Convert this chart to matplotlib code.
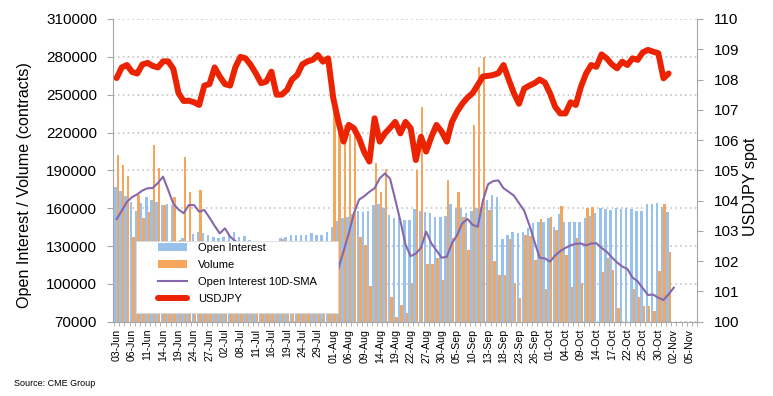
import matplotlib
matplotlib.use("Agg")
import matplotlib.pyplot as plt
import numpy as np
from matplotlib.lines import Line2D
from matplotlib.patches import Patch, Rectangle
from matplotlib.ticker import StrMethodFormatter

plt.rcParams["font.family"] = ["Liberation Sans", "DejaVu Sans"]

# one label every third trading day
TICK_LABELS = [
    "03-Jun", "06-Jun", "11-Jun", "14-Jun", "19-Jun", "24-Jun", "27-Jun",
    "02-Jul", "08-Jul", "11-Jul", "16-Jul", "19-Jul", "24-Jul", "29-Jul",
    "01-Aug", "06-Aug", "09-Aug", "14-Aug", "19-Aug", "22-Aug", "27-Aug",
    "30-Aug", "05-Sep", "10-Sep", "13-Sep", "18-Sep", "23-Sep", "26-Sep",
    "01-Oct", "04-Oct", "09-Oct", "14-Oct", "17-Oct", "22-Oct", "25-Oct",
    "30-Oct", "02-Nov", "05-Nov",
]
N_CATEGORIES = 113

open_interest = [
    176500, 174000, 170000, 165200, 157500, 163900, 169100, 166500, 165000, 162500,
    163100, 162500, 126000, 136600, 134000, 139300, 141000, 140100, 138500, 137500,
    136600, 137400, 138700, 141400, 137400, 138000, 135000, 125000, 124000, 123000,
    125000, 126000, 136600, 137000, 138700, 138500, 139000, 138700, 140000, 139000,
    138700, 141000, 145000, 150000, 152000, 153300, 155000, 157800, 157200, 157800,
    162500, 163100, 160000, 154600, 152000, 153000, 150600, 150600, 159400, 158000,
    157200, 155900, 153300, 152700, 154000, 163500, 160200, 160400, 155900, 158000,
    160000, 161000, 166500, 170400, 169100, 135500, 138700, 140900, 140100, 141400,
    144000, 148000, 148800, 149300, 152000, 145300, 155000, 149300, 148800, 149300,
    148800, 152000, 154000, 155900, 159900, 159100, 158600, 160400, 159400, 159900,
    159400, 157800, 157800, 163100, 163100, 163900, 161200, 157200,
]

volume = [
    202500, 194500, 185500, 137400, 170400, 152000, 157200, 210300, 191800, 162800,
    118000, 169100, 135000, 200300, 173100, 105000, 174200, 122000, 110000, 115000,
    98000, 120000, 108000, 100000, 112000, 95000, 104000, 90000, 98000, 85000,
    92000, 88000, 135600, 82000, 78000, 85000, 80000, 86000, 78000, 84000,
    80000, 90000, 238000, 227300, 226000, 218500, 223800, 137400, 130800, 98500,
    195600, 173100, 191100, 89800, 74000, 83300, 76600, 100400, 190300, 240500,
    115500, 115500, 120800, 103100, 182300, 136600, 173100, 153300, 126800, 226000,
    272000, 280000, 158600, 118000, 107000, 107000, 135600, 100900, 88500, 138700,
    138200, 119000, 151400, 95900, 153300, 142700, 161700, 122900, 97700, 136100,
    100400, 160400, 161200, 66000, 109600, 120800, 111000, 80600, 66000, 66000,
    95900, 89800, 82700, 82700, 78700, 110100, 163100, 125500,
]

oi_sma = [
    151300, 158000, 165000, 168800, 171000, 174000, 175800, 176000, 180000, 185000,
    174400, 163500, 159000, 156000, 162500, 162500, 157200, 158600, 152500, 146000,
    140000, 144000, 137400, 134000, 130000, 127000, 124000, 121000, 118000, 115000,
    112000, 109000, 106000, 104000, 101000, 99000, 97000, 95500, 94000, 93000,
    92000, 92000, 100000, 112300, 126000, 140000, 156000, 166800, 169500, 173000,
    175800, 183700, 187500, 183500, 167000, 150000, 131000, 122000, 124000, 128500,
    141400, 132200, 126500, 120700, 121500, 132200, 138700, 148000, 151500, 146800,
    145300, 166000, 179000, 181500, 182000, 175800, 173000, 170000, 164000, 158000,
    146700, 133400, 120700, 120200, 117600, 122500, 126000, 128500, 130500, 131800,
    132000, 130500, 132000, 132200, 128500, 125500, 121000, 117000, 113800, 111800,
    105000, 102000, 96500, 91200, 91500, 89000, 87200, 91700, 97000,
]

usdjpy = [
    108.05, 108.40, 108.48, 108.25, 108.20, 108.50, 108.55, 108.45, 108.40, 108.60,
    108.60, 108.35, 107.55, 107.29, 107.30, 107.25, 107.16, 107.80, 107.85, 108.40,
    108.10, 107.85, 107.80, 108.40, 108.75, 108.70, 108.48, 108.20, 107.88, 107.93,
    108.26, 107.50, 107.50, 107.65, 108.00, 108.15, 108.50, 108.60, 108.65, 108.81,
    108.59, 108.70, 107.38, 106.60, 105.95, 106.50, 106.39, 106.06, 105.60, 105.29,
    106.72, 105.95, 106.22, 106.40, 106.60, 106.22, 106.60, 106.39, 105.34, 106.11,
    105.62, 106.10, 106.50, 106.28, 105.95, 106.60, 106.94, 107.20, 107.40, 107.55,
    107.82, 108.10, 108.12, 108.15, 108.21, 108.48, 108.00, 107.55, 107.20, 107.70,
    107.80, 107.88, 108.00, 107.90, 107.55, 107.10, 106.88, 106.88, 107.25, 107.16,
    107.76, 108.20, 108.48, 108.42, 108.83, 108.70, 108.50, 108.37, 108.59, 108.48,
    108.70, 108.65, 108.90, 108.98, 108.92, 108.87, 108.04, 108.20,
]

BLUE = "#98C2EC"
ORANGE = "#F5A55C"
PURPLE = "#8667AE"
RED = "#EC2300"
GREY = "#A6A6A6"

W, H = 773, 396
fig = plt.figure(figsize=(W / 100, H / 100), dpi=100)
ax = fig.add_axes([113 / W, 1 - 321.7 / H, 584 / W, 302.7 / H])

x = np.arange(len(open_interest))
ax.bar(x - 0.24, open_interest, width=0.48, color=BLUE, zorder=2)
ax.bar(x + 0.24, volume, width=0.48, color=ORANGE, zorder=2)
ax.plot(np.arange(len(oi_sma)), oi_sma, color=PURPLE, lw=1.5, zorder=3)

ax.set_ylim(70000, 310000)
ax.set_yticks(np.arange(70000, 310001, 30000))
ax.yaxis.set_major_formatter(StrMethodFormatter("{x:.0f}"))
ax.set_xlim(-0.7, N_CATEGORIES - 0.6)
ax.set_axisbelow(True)
ax.yaxis.grid(True, color="#BDBDBD", linestyle=(0, (1, 2.2)), lw=1.1)

ax.set_xticks(np.arange(0, 3 * len(TICK_LABELS), 3))
ax.set_xticklabels(TICK_LABELS, rotation=90, fontsize=7.6)
ax.set_xticks(np.arange(-0.5, N_CATEGORIES, 1), minor=True)
ax.tick_params(axis="x", which="major", length=0, pad=5)
ax.tick_params(axis="x", which="minor", length=3, color=GREY)
ax.tick_params(axis="y", length=4, color=GREY, pad=7.5, labelsize=11)

for side in ("left", "bottom"):
    ax.spines[side].set_color(GREY)
ax.spines["top"].set_visible(False)
ax.spines["right"].set_visible(False)

ax2 = ax.twinx()
ax2.plot(np.arange(len(usdjpy)), usdjpy, color=RED, lw=4.3,
         solid_capstyle="round", solid_joinstyle="round", zorder=3)
ax2.set_ylim(100, 110)
ax2.set_yticks(np.arange(100, 111, 1))
ax2.tick_params(axis="y", length=4, color=GREY, pad=8, labelsize=11)
for side in ("left", "top", "bottom"):
    ax2.spines[side].set_visible(False)
ax2.spines["right"].set_color(GREY)

fig.text(25 / W, 1 - 185 / H, "Open Interest / Volume (contracts)", rotation=90,
         ha="center", va="center", fontsize=11.6)
fig.text(751 / W, 1 - 187 / H, "USDJPY spot", rotation=90,
         ha="center", va="center", fontsize=11.6)
fig.text(14 / W, 1 - 383 / H, "Source: CME Group", ha="left", va="center",
         fontsize=6.5)

# white legend box sitting over the bars
fig.add_artist(Rectangle((136 / W, 1 - 313 / H), 202 / W, 72 / H,
                         transform=fig.transFigure, facecolor="white",
                         edgecolor="#DADADA", lw=0.6, zorder=4))
handles = [
    Patch(facecolor=BLUE, edgecolor="none"),
    Patch(facecolor=ORANGE, edgecolor="none"),
    Line2D([], [], color=PURPLE, lw=1.5),
    Line2D([], [], color=RED, lw=4.3, solid_capstyle="round"),
]
labels = ["Open Interest", "Volume", "Open Interest 10D-SMA", "USDJPY"]
leg = fig.legend(handles, labels, loc="upper left",
                 bbox_to_anchor=(158 / W, 1 - 243 / H), frameon=False,
                 fontsize=8, handlelength=2.6, handletextpad=1.0,
                 labelspacing=0.62, borderpad=0, borderaxespad=0)
leg.set_zorder(5)

fig.savefig("out.png", dpi=100)
